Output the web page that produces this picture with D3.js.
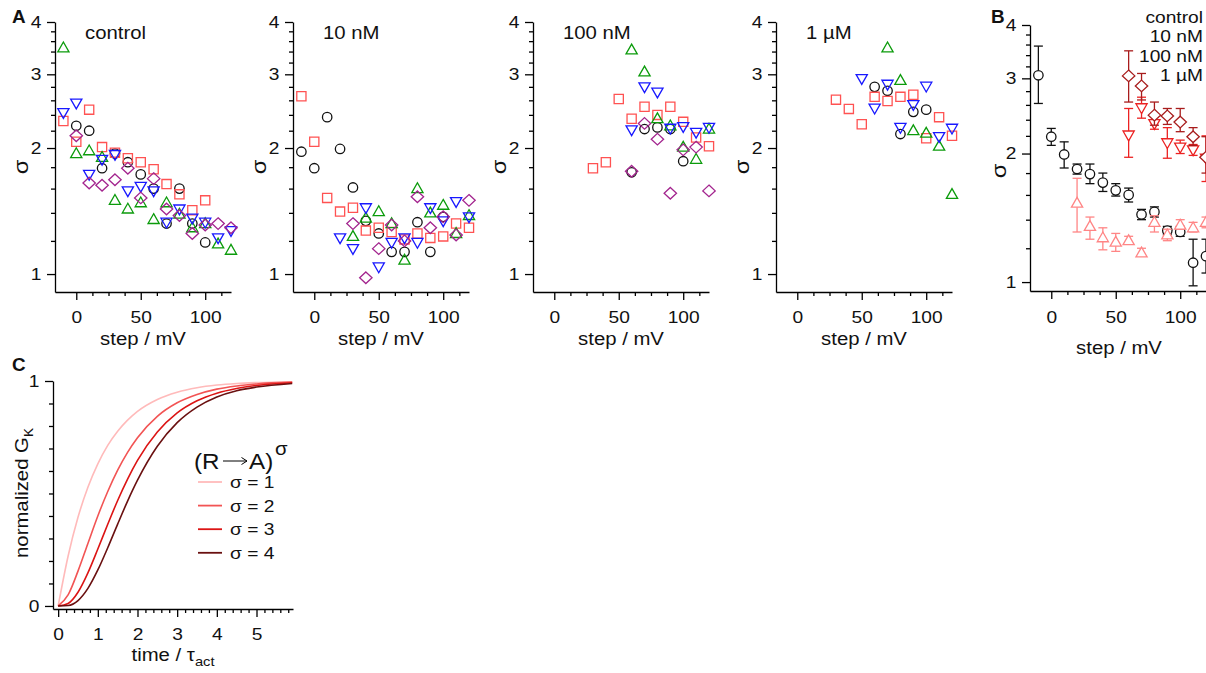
<!DOCTYPE html>
<html>
<head>
<meta charset="utf-8">
<title>sigma vs step</title>
<script src="https://cdn.jsdelivr.net/npm/d3@7"></script>
<style>
  body { margin: 0; background: #fff; }
  svg { display: block; font-family: "Liberation Sans", Arial, sans-serif; }
  .axis path, .axis line { stroke: #000; stroke-width: 1.3; }
  .axis text { font-size: 17px; fill: #111; font-family: "Liberation Sans", Arial, sans-serif; }
</style>
</head>
<body>
<svg id="fig" width="1206" height="673"></svg>
<script>
// voltage steps (mV) shared by every sigma panel
const steps = [-10, 0, 10, 20, 30, 40, 50, 60, 70, 80, 90, 100, 110, 120];

// panel A: one array per cell, null where that step was not measured
const ctrlBlack  = [null, 2.26, 2.20, 1.79, 1.94, 1.85, 1.73, 1.60, 1.32, 1.60, 1.32, 1.19, null, null];
const ctrlRed    = [2.32, 2.07, 2.47, 2.01, 1.95, 1.89, 1.85, 1.78, 1.64, 1.55, 1.42, 1.50, null, null];
const ctrlGreen  = [3.47, 1.94, 1.97, 1.90, 1.50, 1.43, 1.48, 1.35, 1.48, 1.39, 1.29, 1.32, 1.18, 1.14];
const ctrlBlue   = [2.43, 2.56, 1.73, 1.88, 1.93, 1.58, 1.62, 1.58, 1.33, 1.43, 1.36, 1.33, 1.22, 1.27];
const ctrlPurple = [null, 2.14, 1.65, 1.63, 1.68, 1.79, 1.52, 1.69, 1.43, 1.38, 1.25, 1.31, 1.32, 1.29];

const nM10Black  = [1.96, 1.79, 2.37, 1.99, 1.61, 1.34, 1.25, 1.13, 1.13, 1.33, 1.13, 1.37, null, null];
const nM10Red    = [2.66, 2.07, 1.52, 1.41, 1.44, 1.27, 1.29, 1.26, 1.21, 1.25, 1.22, 1.23, 1.32, 1.29];
const nM10Green  = [null, null, null, null, 1.23, 1.36, 1.41, 1.32, 1.08, 1.60, 1.40, 1.46, 1.25, 1.38];
const nM10Blue   = [null, null, null, 1.22, 1.15, 1.44, 1.04, 1.19, 1.22, 1.19, 1.44, 1.34, 1.49, 1.37];
const nM10Purple = [null, null, null, null, 1.32, 0.98, 1.15, 1.31, 1.20, 1.53, 1.29, 1.37, 1.24, 1.50];

const nM100Black  = [null, null, null, null, null, null, null, 1.75, 2.22, 2.24, 2.22, 1.86, null, null];
const nM100Red    = [null, null, null, null, 1.79, 1.85, 2.62, 2.35, 2.51, 2.40, 2.51, 2.31, 2.12, 2.02];
const nM100Green  = [null, null, null, null, null, null, null, 3.43, 3.04, 2.35, 2.26, 2.01, 1.88, 2.22];
const nM100Blue   = [null, null, null, null, null, null, null, 2.21, 2.80, 2.72, 2.23, 2.25, 2.18, 2.24];
const nM100Purple = [null, null, null, null, null, null, null, 1.76, 2.29, 2.10, 1.56, 1.98, 2.01, 1.58];

const uM1Black = [null, null, null, null, null, null, null, 2.80, 2.74, 2.16, 2.44, 2.47, null, null];
const uM1Red   = [null, null, null, null, 2.61, 2.48, 2.28, 2.65, 2.59, 2.65, 2.68, 2.11, 2.37, 2.14];
const uM1Green = [null, null, null, null, null, null, null, null, 3.47, 2.90, 2.20, 2.17, 2.02, 1.55];
const uM1Blue  = [null, null, null, null, null, null, 2.93, 2.49, 2.84, 2.24, 2.54, 2.81, 2.13, 2.23];

// panel B: mean sigma with error bar ends
const ctrlMean = [3.05, 2.19, 1.99, 1.84, 1.79, 1.71, 1.64, 1.60, 1.44, 1.46, 1.32, 1.31, 1.11, 1.15];
const ctrlLo   = [2.62, 2.09, 1.85, 1.79, 1.70, 1.63, 1.59, 1.54, 1.40, 1.42, 1.29, 1.28, 0.98, 1.05];
const ctrlHi   = [3.57, 2.29, 2.13, 1.89, 1.89, 1.80, 1.70, 1.66, 1.48, 1.50, 1.35, 1.35, 1.26, 1.26];

const nM10Mean = [null, null, null, 1.53, 1.35, 1.27, 1.24, 1.25, 1.17, 1.38, 1.29, 1.36, 1.34, 1.38];
const nM10Lo   = [null, null, null, 1.31, 1.26, 1.19, 1.18, 1.23, 1.15, 1.31, 1.25, 1.33, 1.31, 1.34];
const nM10Hi   = [null, null, null, 1.75, 1.42, 1.34, 1.30, 1.28, 1.20, 1.43, 1.33, 1.40, 1.38, 1.42];

const nM100Mean = [null, null, null, null, null, null, null, 2.21, 2.56, 2.35, 2.12, 2.07, 2.04, 1.95];
const nM100Lo   = [null, null, null, null, null, null, null, 1.96, 2.42, 2.28, 1.95, 2.00, 1.98, 1.72];
const nM100Hi   = [null, null, null, null, null, null, null, 2.55, 2.71, 2.43, 2.30, 2.15, 2.10, 2.20];

const uM1Mean = [null, null, null, null, null, null, null, 3.04, 2.88, 2.46, 2.45, 2.37, 2.19, 1.96];
const uM1Lo   = [null, null, null, null, null, null, null, 2.64, 2.67, 2.33, 2.34, 2.25, 2.09, 1.80];
const uM1Hi   = [null, null, null, null, null, null, null, 3.48, 3.08, 2.64, 2.55, 2.55, 2.30, 2.19];

// panel C: normalized conductance read along time (in units of tau_act)
const timeVals = [0, 0.25, 0.5, 0.75, 1, 1.25, 1.5, 1.75, 2, 2.5, 3, 3.5, 4, 4.5, 5, 5.9];
const gSigma1 = [0, 0.221, 0.394, 0.528, 0.632, 0.714, 0.777, 0.826, 0.865, 0.918, 0.950, 0.970, 0.982, 0.989, 0.993, 0.997];
const gSigma2 = [0, 0.049, 0.155, 0.278, 0.400, 0.509, 0.604, 0.683, 0.748, 0.843, 0.903, 0.940, 0.964, 0.978, 0.987, 0.995];
const gSigma3 = [0, 0.011, 0.061, 0.147, 0.253, 0.363, 0.469, 0.564, 0.647, 0.773, 0.858, 0.912, 0.946, 0.967, 0.980, 0.992];
const gSigma4 = [0, 0.002, 0.024, 0.078, 0.160, 0.259, 0.364, 0.466, 0.559, 0.710, 0.815, 0.884, 0.929, 0.957, 0.973, 0.989];

// tick values
const sigmaMajor = [1, 2, 3, 4];
const sigmaMinor = [1.2, 1.4, 1.6, 1.8, 2.2, 2.4, 2.6, 2.8, 3.2, 3.4, 3.6, 3.8];
const stepMajor = [0, 50, 100];
const stepMinor = [12.5, 25, 37.5, 62.5, 75, 87.5, 112.5];
const timeMajor = [0, 1, 2, 3, 4, 5];
const timeMinor = [0.2, 0.4, 0.6, 0.8, 1.2, 1.4, 1.6, 1.8, 2.2, 2.4, 2.6, 2.8, 3.2, 3.4, 3.6, 3.8, 4.2, 4.4, 4.6, 4.8, 5.2, 5.4, 5.6, 5.8];
const gMajor = [0, 1];
const gMinor = [0.1, 0.2, 0.3, 0.4, 0.5, 0.6, 0.7, 0.8, 0.9];

const SX = 1.13; // the original lettering is a little wide

const cellStyles = [
    {shape: "circle", color: "#111111"},
    {shape: "square", color: "#ff5252"},
    {shape: "triUp", color: "#0b9b0b"},
    {shape: "triDown", color: "#1818ff"},
    {shape: "diamond", color: "#a3248e"}
];

const shapePaths = {
    circle: d3.symbol(d3.symbolCircle, 70)(),
    square: "M-4.6,-4.6H4.6V4.6H-4.6Z",
    triUp: "M0,-5.8L5.6,4L-5.6,4Z",
    triDown: "M0,5.8L5.6,-4L-5.6,-4Z",
    diamond: "M0,-5.8L6.2,0L0,5.8L-6.2,0Z"
};

class SigmaFigure {
    constructor() {
        this.svg = d3.select("#fig");
        this.drawPanelA();
        this.drawPanelB();
        this.drawPanelC();
    }

    text(g, x, y, str, opt = {}) {
        let tr = `translate(${x},${y})`;
        if (opt.rotate) tr += ` rotate(${opt.rotate})`;
        tr += ` scale(${opt.sx || SX},1)`;
        return g.append("text")
            .attr("transform", tr)
            .attr("text-anchor", opt.anchor || "start")
            .attr("font-size", opt.size || 17)
            .attr("font-weight", opt.bold ? "bold" : null)
            .attr("fill", "#111")
            .text(str);
    }

    // y axis + x axis with major and minor ticks
    axes(g, x, y, yMajor, yMinor, xMajor, xMinor, xPad) {
        const left = x.range()[0], bottom = y.range()[0];
        const yMin = g.append("g").attr("class", "axis").attr("transform", `translate(${left},0)`)
            .call(d3.axisLeft(y).tickValues(yMinor).tickSize(4).tickFormat(""));
        yMin.select(".domain").remove();
        const yAx = g.append("g").attr("class", "axis").attr("transform", `translate(${left},0)`)
            .call(d3.axisLeft(y).tickValues(yMajor).tickSize(8).tickSizeOuter(0).tickPadding(4).tickFormat(d => d));
        const xMin = g.append("g").attr("class", "axis").attr("transform", `translate(0,${bottom})`)
            .call(d3.axisBottom(x).tickValues(xMinor).tickSize(4).tickFormat(""));
        xMin.select(".domain").remove();
        const xAx = g.append("g").attr("class", "axis").attr("transform", `translate(0,${bottom})`)
            .call(d3.axisBottom(x).tickValues(xMajor).tickSize(8).tickSizeOuter(0).tickPadding(xPad).tickFormat(d => d));
        yAx.selectAll("text").attr("transform", `scale(${SX},1)`);
        xAx.selectAll("text").attr("transform", `scale(${SX},1)`);
    }

    drawPanelA() {
        const panels = [
            {left: 55, title: "control", cells: [ctrlBlack, ctrlRed, ctrlGreen, ctrlBlue, ctrlPurple]},
            {left: 293, title: "10 nM", cells: [nM10Black, nM10Red, nM10Green, nM10Blue, nM10Purple]},
            {left: 533, title: "100 nM", cells: [nM100Black, nM100Red, nM100Green, nM100Blue, nM100Purple]},
            {left: 776, title: "1 µM", cells: [uM1Black, uM1Red, uM1Green, uM1Blue]}
        ];
        panels.forEach(p => {
            const g = this.svg.append("g");
            const x = d3.scaleLinear().domain([-16.5, 120]).range([p.left, p.left + 176]);
            const y = d3.scaleLog().domain([0.906, 4]).range([292, 22]);
            this.axes(g, x, y, sigmaMajor, sigmaMinor, stepMajor, stepMinor, 11);

            p.cells.forEach((vals, i) => {
                const st = cellStyles[i];
                const pts = steps.map((s, j) => ({s: s, v: vals[j]})).filter(d => d.v != null);
                g.append("g").selectAll("path")
                    .data(pts)
                    .enter().append("path")
                    .attr("d", shapePaths[st.shape])
                    .attr("transform", d => `translate(${x(d.s)},${y(d.v)})`)
                    .attr("fill", "none")
                    .attr("stroke", st.color)
                    .attr("stroke-width", 1.3);
            });

            this.text(g, p.left + 30, 39, p.title, {size: 18});
            this.text(g, p.left - 27, 167, "σ", {size: 21, rotate: -90, anchor: "middle"});
            this.text(g, p.left + 88, 345, "step / mV", {size: 18, anchor: "middle"});
        });
        this.text(this.svg, 12, 23, "A", {size: 18, bold: true, sx: 1.05});
    }

    drawPanelB() {
        const g = this.svg.append("g");
        const x = d3.scaleLinear().domain([-16.5, 120]).range([1030, 1206]);
        const y = d3.scaleLog().domain([0.953, 4]).range([291, 25]);
        this.axes(g, x, y, sigmaMajor, sigmaMinor, stepMajor, stepMinor, 12);

        const series = [
            {mean: ctrlMean, lo: ctrlLo, hi: ctrlHi, shape: "circle", color: "#111111"},
            {mean: nM10Mean, lo: nM10Lo, hi: nM10Hi, shape: "triUp", color: "#ff8585"},
            {mean: nM100Mean, lo: nM100Lo, hi: nM100Hi, shape: "triDown", color: "#ec2222"},
            {mean: uM1Mean, lo: uM1Lo, hi: uM1Hi, shape: "diamond", color: "#a81c1c"}
        ];
        series.forEach(s => {
            const pts = steps.map((st, j) => ({st: st, m: s.mean[j], lo: s.lo[j], hi: s.hi[j]}))
                .filter(d => d.m != null);
            const sg = g.append("g").attr("stroke", s.color).attr("stroke-width", 1.3);
            sg.selectAll(".bar").data(pts).enter().append("line")
                .attr("x1", d => x(d.st)).attr("x2", d => x(d.st))
                .attr("y1", d => y(d.lo)).attr("y2", d => y(d.hi));
            sg.selectAll(".capLo").data(pts).enter().append("line")
                .attr("x1", d => x(d.st) - 4.5).attr("x2", d => x(d.st) + 4.5)
                .attr("y1", d => y(d.lo)).attr("y2", d => y(d.lo));
            sg.selectAll(".capHi").data(pts).enter().append("line")
                .attr("x1", d => x(d.st) - 4.5).attr("x2", d => x(d.st) + 4.5)
                .attr("y1", d => y(d.hi)).attr("y2", d => y(d.hi));
            sg.selectAll(".mark").data(pts).enter().append("path")
                .attr("d", shapePaths[s.shape])
                .attr("transform", d => `translate(${x(d.st)},${y(d.m)})`)
                .attr("fill", "#fff");
        });

        ["control", "10 nM", "100 nM", "1 µM"].forEach((name, i) => {
            this.text(g, 1203, 23 + i * 19.3, name, {size: 17, anchor: "end"});
        });
        this.text(g, 1006, 171, "σ", {size: 21, rotate: -90, anchor: "middle"});
        this.text(g, 1119, 354, "step / mV", {size: 18, anchor: "middle"});
        this.text(this.svg, 991, 23, "B", {size: 18, bold: true, sx: 1.05});
    }

    drawPanelC() {
        const g = this.svg.append("g");
        const x = d3.scaleLinear().domain([-0.13, 5.92]).range([53, 293]);
        const y = d3.scaleLinear().domain([-0.0135, 1]).range([609, 381]);
        this.axes(g, x, y, gMajor, gMinor, timeMajor, timeMinor, 11);

        const curves = [
            {vals: gSigma1, color: "#ffbaba", label: "σ = 1"},
            {vals: gSigma2, color: "#f25454", label: "σ = 2"},
            {vals: gSigma3, color: "#dc1414", label: "σ = 3"},
            {vals: gSigma4, color: "#6a1010", label: "σ = 4"}
        ];
        const line = d3.line()
            .x(d => x(d.t))
            .y(d => y(d.g))
            .curve(d3.curveMonotoneX);
        curves.forEach(c => {
            g.append("path")
                .datum(timeVals.map((t, j) => ({t: t, g: c.vals[j]})))
                .attr("d", line)
                .attr("fill", "none")
                .attr("stroke", c.color)
                .attr("stroke-width", 1.6);
        });

        // legend: (R -> A)^sigma
        this.text(g, 194, 469, "(R", {size: 22, sx: 1.1});
        g.append("line").attr("x1", 223).attr("x2", 247).attr("y1", 461).attr("y2", 461)
            .attr("stroke", "#000").attr("stroke-width", 1);
        g.append("path").attr("d", "M241.5,457.5L247,461L241.5,464.5")
            .attr("fill", "none").attr("stroke", "#000").attr("stroke-width", 1);
        this.text(g, 249, 469, "A)", {size: 22, sx: 1.1});
        this.text(g, 275, 455, "σ", {size: 18});
        curves.forEach((c, i) => {
            const cy = 482 + i * 23.6;
            g.append("line").attr("x1", 198).attr("x2", 222).attr("y1", cy).attr("y2", cy)
                .attr("stroke", c.color).attr("stroke-width", 1.8);
            this.text(g, 230, cy + 6, c.label, {size: 17});
        });

        const yl = this.text(g, 28, 493, "normalized G", {size: 18, rotate: -90, anchor: "middle"});
        yl.append("tspan").attr("font-size", 12).attr("dy", 5).text("K");
        const xl = this.text(g, 173, 661, "time / τ", {size: 18, anchor: "middle"});
        xl.append("tspan").attr("font-size", 13).attr("dy", 5).text("act");
        this.text(this.svg, 12, 371, "C", {size: 18, bold: true, sx: 1.05});
    }
}

document.addEventListener("DOMContentLoaded", () => {
    new SigmaFigure();
});
</script>
</body>
</html>
